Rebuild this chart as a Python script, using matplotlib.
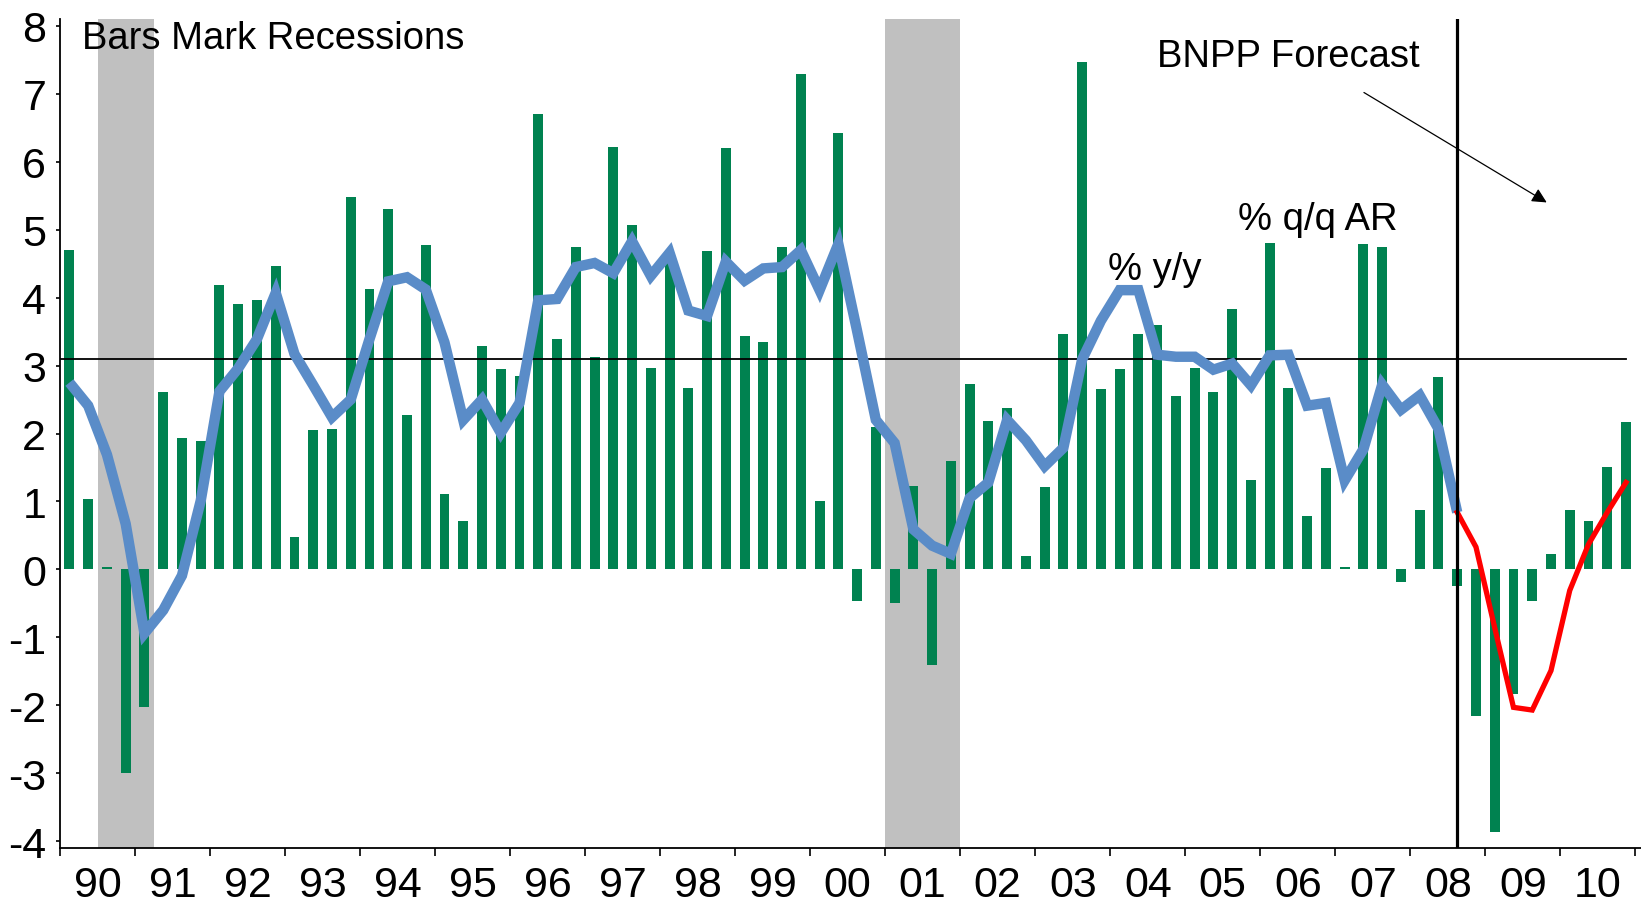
"""US GDP growth: % q/q AR bars, % y/y line, recessions shaded, BNPP forecast."""
import numpy as np
import matplotlib
matplotlib.use("Agg")
import matplotlib.pyplot as plt

plt.rcParams["font.family"] = ["Liberation Sans", "DejaVu Sans"]
plt.rcParams["axes.unicode_minus"] = False

years = ["90", "91", "92", "93", "94", "95", "96", "97", "98", "99", "00",
         "01", "02", "03", "04", "05", "06", "07", "08", "09", "10"]

# % q/q annualised, 1990Q1 .. 2010Q4
qoq = [4.70, 1.03, 0.03, -3.00,
       -2.03, 2.61, 1.94, 1.89,
       4.19, 3.90, 3.97, 4.47,
       0.48, 2.05, 2.07, 5.48,
       4.12, 5.31, 2.27, 4.77,
       1.11, 0.71, 3.29, 2.95,
       2.84, 6.70, 3.39, 4.75,
       3.12, 6.21, 5.07, 2.97,
       4.53, 2.67, 4.68, 6.20,
       3.43, 3.34, 4.74, 7.29,
       1.01, 6.42, -0.46, 2.09,
       -0.50, 1.23, -1.41, 1.59,
       2.73, 2.19, 2.37, 0.20,
       1.21, 3.46, 7.47, 2.65,
       2.95, 3.47, 3.59, 2.55,
       2.97, 2.61, 3.84, 1.31,
       4.81, 2.67, 0.79, 1.49,
       0.04, 4.79, 4.75, -0.18,
       0.87, 2.83, -0.25, -2.16,
       -3.87, -1.83, -0.47, 0.22,
       0.87, 0.71, 1.51, 2.17]

# % y/y
yoy = [2.75, 2.41, 1.69, 0.67,
       -0.94, -0.60, -0.09, 1.01,
       2.62, 2.96, 3.39, 4.07,
       3.17, 2.71, 2.24, 2.50,
       3.39, 4.24, 4.30, 4.12,
       3.34, 2.20, 2.50, 2.01,
       2.45, 3.96, 3.98, 4.45,
       4.51, 4.36, 4.83, 4.32,
       4.66, 3.81, 3.73, 4.53,
       4.25, 4.43, 4.45, 4.70,
       4.11, 4.79, 3.51, 2.20,
       1.86, 0.59, 0.35, 0.23,
       1.05, 1.28, 2.20, 1.90,
       1.52, 1.79, 3.09, 3.66,
       4.11, 4.11, 3.16, 3.13,
       3.13, 2.94, 3.03, 2.71,
       3.15, 3.16, 2.41, 2.45,
       1.31, 1.77, 2.72, 2.35,
       2.56, 2.07, 0.84, 0.33,
       -0.86, -2.03, -2.07, -1.49,
       -0.31, 0.37, 0.84, 1.28]

recessions = [(2, 5), (44, 48)]  # quarter index ranges
forecast_start = 74              # 2008Q3
trend = 3.1

x = np.arange(len(qoq)) + 0.5

fig = plt.figure(figsize=(16.41, 9.03), dpi=100)
ax = fig.add_axes([0.0366, 0.0598, 0.9634, 0.918])

for a, b in recessions:
    ax.axvspan(a, b, color="#c0c0c0", lw=0, zorder=0)

ax.bar(x, qoq, width=0.53, color="#008250", zorder=2)
ax.plot([0, x[-1]], [trend, trend], color="black", lw=1.3, zorder=3)

fs = forecast_start
ax.plot(x[:fs + 1], yoy[:fs + 1], color="#5a8cc8", lw=7.5, zorder=4,
        solid_joinstyle="miter", solid_capstyle="butt")
ax.plot(x[fs:], yoy[fs:], color="#ff0000", lw=3.8, zorder=4,
        solid_joinstyle="miter")
ax.axvline(x[fs], color="black", lw=2.3, zorder=5)

ax.text(1.15, 7.82, "Bars Mark Recessions", fontsize=27.5, ha="left", va="center")
ax.text(58.5, 7.55, "BNPP Forecast", fontsize=27.5, ha="left", va="center")
ax.text(55.9, 4.42, "% y/y", fontsize=27.5, ha="left", va="center")
ax.text(62.8, 5.16, "% q/q AR", fontsize=27.5, ha="left", va="center")
ax.annotate("", xy=(79.4, 5.38), xytext=(69.4, 7.04),
            arrowprops=dict(arrowstyle="-|>", lw=0.9, color="black",
                            mutation_scale=22), zorder=6)

ax.set_xlim(0, 84.3)
ax.set_ylim(-4.1, 8.1)
ax.set_yticks(range(-4, 9))
ax.set_xticks(np.arange(0, 85, 4))
ax.set_xticklabels([])
ax.set_xticks(np.arange(2, 84, 4), minor=True)
ax.set_xticklabels(years, minor=True)
ax.tick_params(axis="x", which="major", direction="out", length=6, width=1.2)
ax.tick_params(axis="x", which="minor", length=0, pad=12, labelsize=31)
ax.tick_params(axis="y", direction="out", length=3, width=1.2, pad=7, labelsize=31)

for side in ("top", "right"):
    ax.spines[side].set_visible(False)
for side in ("left", "bottom"):
    ax.spines[side].set_linewidth(1.3)

fig.savefig("out.png", dpi=100)
